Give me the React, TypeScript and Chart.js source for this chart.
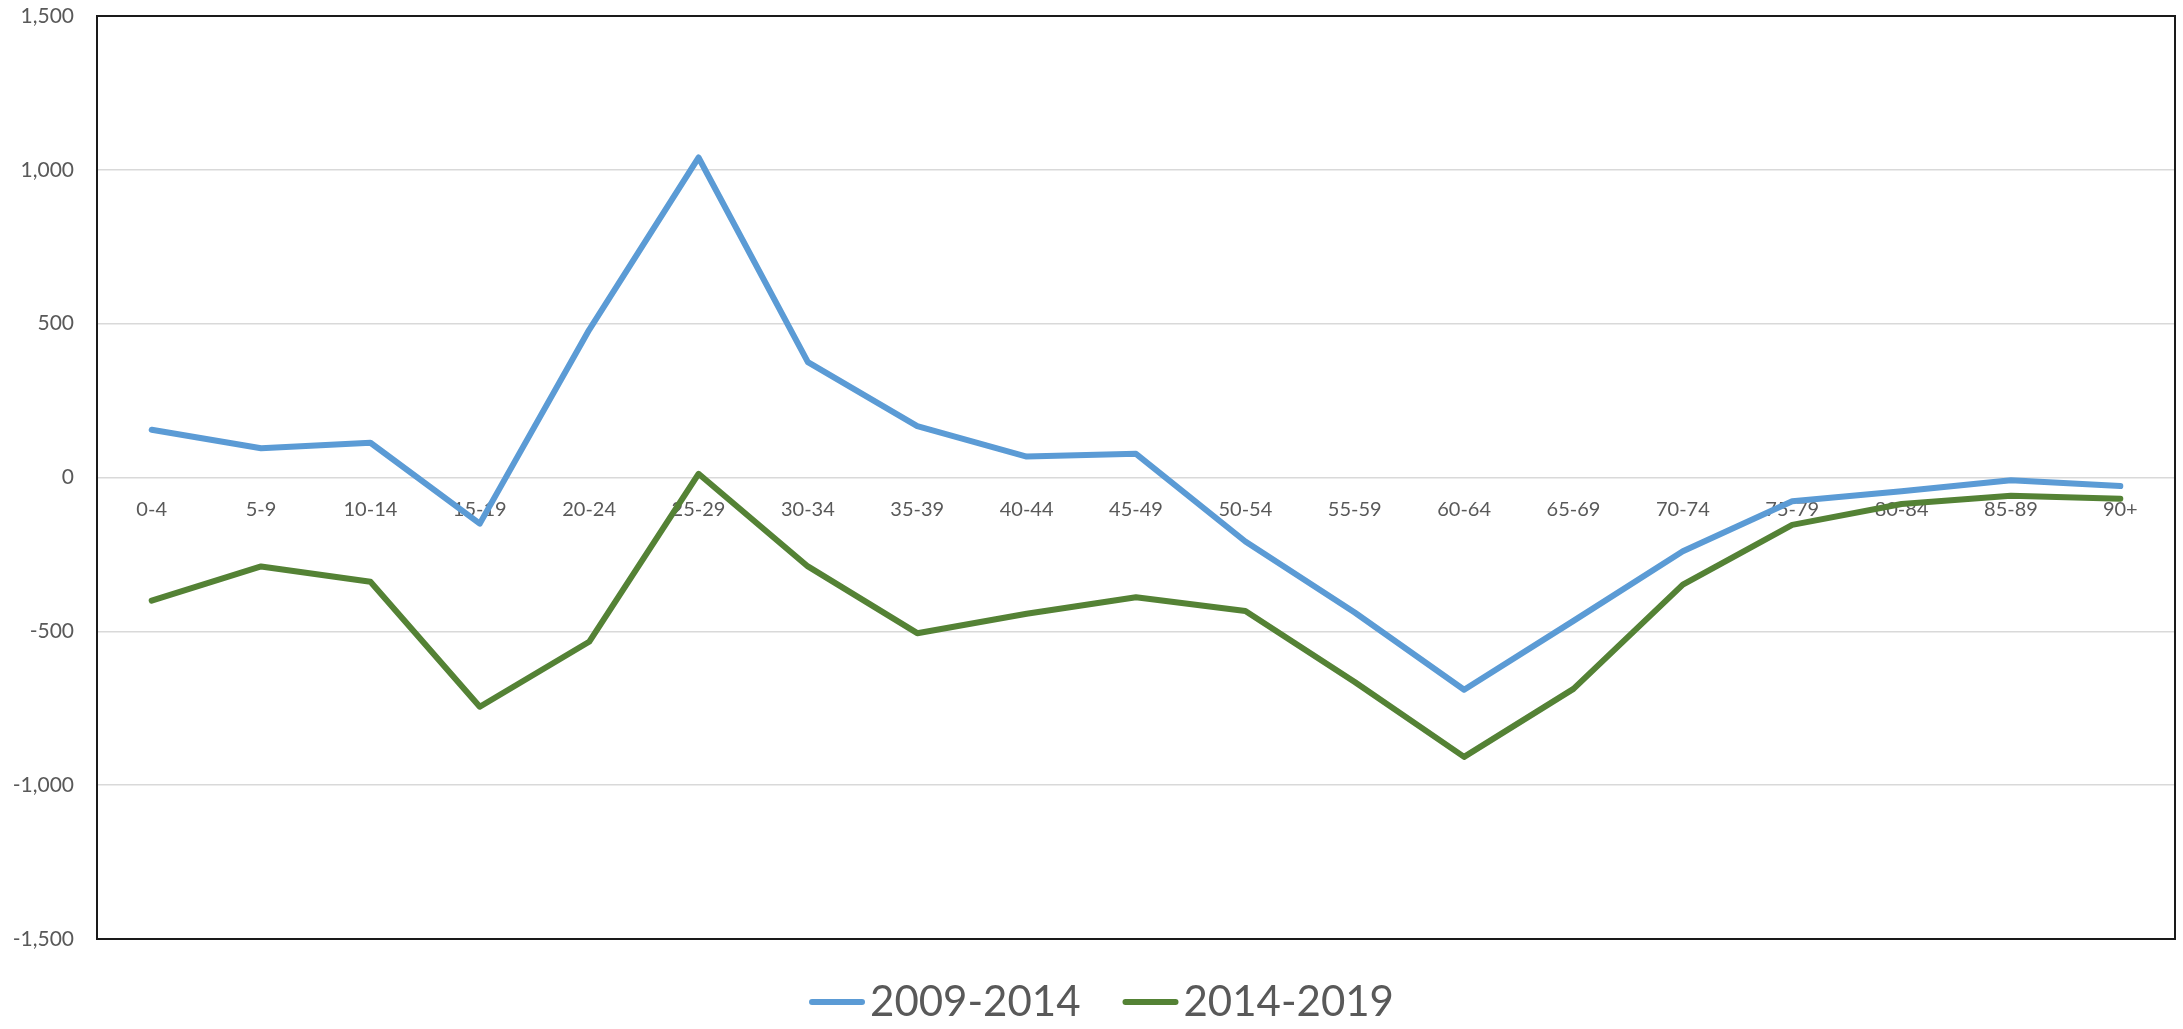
import React, { useEffect, useRef } from 'react';
import { Chart, registerables } from 'chart.js';

Chart.register(...registerables);

const categories = ['0-4', '5-9', '10-14', '15-19', '20-24', '25-29', '30-34', '35-39', '40-44', '45-49', '50-54', '55-59', '60-64', '65-69', '70-74', '75-79', '80-84', '85-89', '90+'];
const series2009to2014 = [155, 95, 113, -150, 480, 1040, 375, 167, 68, 77, -208, -439, -690, -466, -240, -77, -45, -9, -28];
const series2014to2019 = [-400, -289, -339, -745, -534, 12, -289, -506, -443, -389, -434, -665, -908, -687, -348, -154, -86, -59, -69];
const seriesNames = ['2009-2014', '2014-2019'];
const seriesColors = ['#5B9BD5', '#548235'];
const yMin = -1500;
const yMax = 1500;
const yStep = 500;

const FONT = 'Lato, "Open Sans", sans-serif';
const TEXT = '#595959';

const framePlugin = {
  id: 'frame',
  beforeDatasetsDraw(chart: any) {
    const { ctx, chartArea } = chart;
    ctx.save();
    ctx.strokeStyle = '#1a1a1a';
    ctx.lineWidth = 2;
    ctx.strokeRect(chartArea.left, chartArea.top, chartArea.right - chartArea.left, chartArea.bottom - chartArea.top);
    ctx.restore();
  },
};

// Excel-style legend: short line, small gap, text; centred under the chart
const lineLegendPlugin = {
  id: 'lineLegend',
  afterDraw(chart: any) {
    const { ctx } = chart;
    const fontSize = 42;
    const lineLen = 56;
    const gapLineText = 5;
    const gapItems = 42;
    ctx.save();
    ctx.font = `${fontSize}px ${FONT}`;
    const items = chart.data.datasets.map((ds: any) => ({
      label: ds.label,
      color: ds.borderColor,
      w: ctx.measureText(ds.label).width,
    }));
    const total = items.reduce((s: number, it: any) => s + lineLen + gapLineText + it.w, 0) + gapItems * (items.length - 1);
    let x = chart.width / 2 + 10 - total / 2;
    const y = 1002;
    items.forEach((it: any) => {
      ctx.strokeStyle = it.color;
      ctx.lineWidth = 6;
      ctx.lineCap = 'round';
      ctx.beginPath();
      ctx.moveTo(x + 3, y);
      ctx.lineTo(x + lineLen - 3, y);
      ctx.stroke();
      x += lineLen + gapLineText;
      ctx.fillStyle = TEXT;
      ctx.textAlign = 'left';
      ctx.textBaseline = 'middle';
      ctx.fillText(it.label, x, y);
      x += it.w + gapItems;
    });
    ctx.restore();
  },
};

export default function App() {
  const ref = useRef<HTMLCanvasElement | null>(null);
  useEffect(() => {
    if (!ref.current) return;
    const chart = new Chart(ref.current, {
      type: 'line',
      data: {
        labels: categories,
        datasets: [
          {
            label: seriesNames[0],
            data: series2009to2014,
            borderColor: seriesColors[0],
            backgroundColor: seriesColors[0],
            borderWidth: 6,
            pointRadius: 0,
            pointHoverRadius: 0,
            tension: 0,
            borderJoinStyle: 'round',
            borderCapStyle: 'round',
          },
          {
            label: seriesNames[1],
            data: series2014to2019,
            borderColor: seriesColors[1],
            backgroundColor: seriesColors[1],
            borderWidth: 6,
            pointRadius: 0,
            pointHoverRadius: 0,
            tension: 0,
            borderJoinStyle: 'round',
            borderCapStyle: 'round',
          },
        ],
      },
      options: {
        responsive: false,
        animation: false,
        layout: { padding: { left: 0, right: 8, top: 16, bottom: 90 } },
        plugins: {
          tooltip: { enabled: false },
          legend: { display: false },
        },
        scales: {
          x: {
            type: 'category',
            position: { y: 0 } as any,
            offset: true,
            grid: { display: false, drawTicks: false, tickLength: 0 },
            border: { display: false },
            ticks: {
              font: { family: FONT, size: 20 },
              color: TEXT,
              padding: 20,
              maxRotation: 0,
              autoSkip: false,
            },
          },
          y: {
            min: yMin,
            max: yMax,
            afterFit(scale: any) {
              scale.width = 97;
              scale.paddingTop = 0;
              scale.paddingBottom = 0;
            },
            grid: { color: '#D9D9D9', lineWidth: 1.5, drawTicks: false, tickLength: 0 },
            border: { display: false },
            ticks: {
              stepSize: yStep,
              font: { family: FONT, size: 21 },
              color: TEXT,
              padding: 23,
              callback: (v: any) => Number(v).toLocaleString('en-US'),
            },
          },
        },
      },
      plugins: [framePlugin, lineLegendPlugin],
    } as any);
    return () => chart.destroy();
  }, []);
  return (
    <div style={{ position: 'fixed', left: 0, top: 0, width: 2183, height: 1029, background: '#fff' }}>
      <canvas ref={ref} width={2183} height={1029} />
    </div>
  );
}
